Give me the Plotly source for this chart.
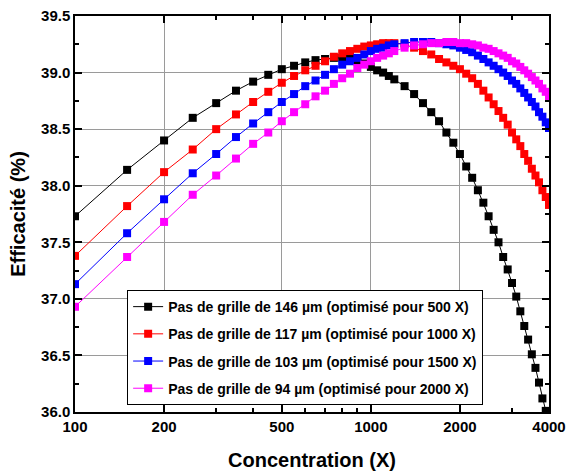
import plotly.graph_objects as go

# Concentration (X) : pas de 50 jusqu'à 1200, puis pas de 100
CONC = [100, 150, 200, 250, 300, 350, 400, 450, 500, 550, 600, 650, 700, 750,
        800, 850, 900, 950, 1000, 1050, 1100, 1150, 1200,
        1300, 1400, 1500, 1600, 1700, 1800, 1900, 2000, 2100, 2200, 2300, 2400,
        2500, 2600, 2700, 2800, 2900, 3000, 3100, 3200, 3300, 3400, 3500, 3600,
        3700, 3800, 3900, 4000]

EFF_146 = [37.73, 38.14, 38.40, 38.60, 38.73, 38.84, 38.92, 38.98, 39.03, 39.06,
           39.09, 39.11, 39.12, 39.13, 39.13, 39.12, 39.10, 39.08, 39.05, 39.02,
           39.00, 38.97, 38.94,
           38.88, 38.81, 38.73, 38.65, 38.57, 38.47, 38.38, 38.28, 38.17, 38.07,
           37.96, 37.85, 37.73, 37.61, 37.50, 37.37, 37.26, 37.14, 37.02, 36.89,
           36.76, 36.64, 36.51, 36.39, 36.26, 36.12, 36.01, 35.89]

EFF_117 = [37.38, 37.82, 38.12, 38.32, 38.50, 38.63, 38.74, 38.83, 38.91, 38.97,
           39.02, 39.06, 39.10, 39.14, 39.17, 39.19, 39.21, 39.23, 39.24, 39.25,
           39.26, 39.26, 39.26,
           39.25, 39.22, 39.19, 39.16, 39.12, 39.09, 39.06, 39.03, 38.99, 38.95,
           38.90, 38.84, 38.78, 38.72, 38.66, 38.60, 38.54, 38.47, 38.41, 38.35,
           38.28, 38.22, 38.15, 38.09, 38.03, 37.96, 37.90, 37.83]

EFF_103 = [37.13, 37.58, 37.88, 38.11, 38.28, 38.43, 38.55, 38.65, 38.74, 38.81,
           38.88, 38.93, 38.98, 39.03, 39.07, 39.10, 39.13, 39.16, 39.19, 39.21,
           39.22, 39.24, 39.25,
           39.26, 39.27, 39.27, 39.27, 39.26, 39.25, 39.24, 39.22, 39.20, 39.18,
           39.15, 39.12, 39.09, 39.06, 39.03, 39.00, 38.97, 38.93, 38.90, 38.86,
           38.82, 38.78, 38.74, 38.70, 38.65, 38.61, 38.56, 38.51]

EFF_94 = [36.93, 37.37, 37.68, 37.92, 38.09, 38.24, 38.37, 38.47, 38.57, 38.65,
          38.72, 38.79, 38.84, 38.90, 38.95, 38.99, 39.04, 39.07, 39.10, 39.13,
          39.15, 39.17, 39.19,
          39.22, 39.24, 39.25, 39.26, 39.26, 39.27, 39.27, 39.26, 39.26, 39.25,
          39.24, 39.22, 39.21, 39.19, 39.17, 39.15, 39.13, 39.10, 39.08, 39.05,
          39.02, 38.99, 38.96, 38.93, 38.90, 38.86, 38.83, 38.79]

SERIES = [
    ("Pas de grille de 146 µm (optimisé pour 500 X)", EFF_146, "#000000"),
    ("Pas de grille de 117 µm (optimisé pour 1000 X)", EFF_117, "#ff0000"),
    ("Pas de grille de 103 µm (optimisé pour 1500 X)", EFF_103, "#0000ff"),
    ("Pas de grille de 94 µm (optimisé pour 2000 X)", EFF_94, "#ff00ff"),
]

X_TICKS = [100, 200, 500, 1000, 2000, 4000]
X_MINOR = [300, 400, 600, 700, 800, 900, 3000]

FONT = "Liberation Sans, Arial, sans-serif"
GRID = "#9a9a9a"

fig = go.Figure()
for i, (nom, vals, couleur) in enumerate(SERIES):
    fig.add_trace(go.Scatter(
        x=CONC, y=vals, name=nom, mode="lines+markers", legendgroup=f"g{i}",
        line=dict(color=couleur, width=1),
        marker=dict(symbol="square", size=8, color=couleur),
    ))

axis_common = dict(
    showline=True, linecolor="black", linewidth=1.5, mirror="allticks",
    ticks="inside", ticklen=7, tickwidth=1.5, tickcolor="black",
    showgrid=True, gridcolor=GRID, gridwidth=1, zeroline=False,
    automargin=False, ticklabeloverflow="allow",
    tickfont=dict(family=FONT, size=15, color="black", weight="bold"),
)

fig.update_xaxes(
    type="log", range=[2, 3.60206], tickvals=X_TICKS,
    ticktext=[str(v) for v in X_TICKS],
    minor=dict(tickvals=X_MINOR, ticks="inside", ticklen=4, tickcolor="black",
               showgrid=False),
    title=dict(text="<b>Concentration (X)</b>", standoff=19,
               font=dict(family=FONT, size=20, color="black")),
    **axis_common,
)
fig.update_yaxes(
    range=[36.0, 39.5], dtick=0.5, tick0=36.0, tickformat=".1f",
    minor=dict(dtick=0.25, ticks="inside", ticklen=4, tickcolor="black",
               showgrid=False),
    title=dict(text="<b>Efficacité (%)</b>", standoff=10,
               font=dict(family=FONT, size=20, color="black")),
    **axis_common,
)

fig.update_layout(
    width=566, height=474,
    margin=dict(l=75, r=17, t=16, b=62),
    plot_bgcolor="white", paper_bgcolor="white",
    font=dict(family=FONT, color="black"),
    legend=dict(
        x=0.11, y=0.308, xanchor="left", yanchor="top",
        bgcolor="white", bordercolor="black", borderwidth=1,
        font=dict(family=FONT, size=14, color="black", weight="bold"),
        traceorder="grouped", tracegroupgap=6,
    ),
    showlegend=True,
)

# supprime la marge par défaut de la page pour caler la figure dans la fenêtre
fig.write_html("out.html", config={"displayModeBar": False},
               post_script="document.body.style.margin = '0';")
